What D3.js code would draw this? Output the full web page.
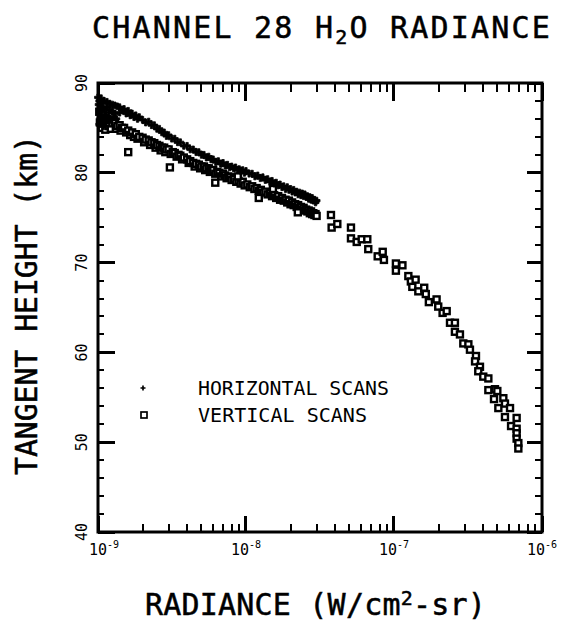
<!DOCTYPE html>
<html><head><meta charset="utf-8">
<script src="https://cdn.jsdelivr.net/npm/d3@7"></script>
<style>body{margin:0;background:#fff}svg{display:block}text{font-family:"DejaVu Sans Mono",monospace;fill:#000}</style>
</head><body>
<svg id="c" width="565" height="624"></svg>
<script>
// ---------- data ----------
const xDecades = [1e-9, 1e-8, 1e-7, 1e-6];
const xTickExponents = ["-9", "-8", "-7", "-6"];
const yTicks = [40, 50, 60, 70, 80, 90];
const legendLabels = ["HORIZONTAL SCANS", "VERTICAL SCANS"];

// horizontal scans: [radiance (W/cm2-sr), tangent height (km)]
const horizontalScans = [
[1.00e-9,88.4],[1.01e-9,87.6],[1.02e-9,88.0],[1.03e-9,86.9],[1.04e-9,87.3],[1.05e-9,88.3],[1.06e-9,86.5],[1.07e-9,87.8],
[1.08e-9,85.9],[1.10e-9,88.0],[1.10e-9,87.1],[1.12e-9,86.4],[1.15e-9,87.9],[1.15e-9,87.3],[1.18e-9,86.7],[1.20e-9,87.7],
[1.20e-9,87.0],[1.25e-9,87.6],[1.25e-9,86.8],[1.30e-9,87.5],[1.30e-9,86.6],[1.35e-9,87.4],[1.40e-9,87.3],[1.40e-9,86.7],
[1.02e-9,85.4],[1.04e-9,86.1],[1.09e-9,85.2],[1.13e-9,85.7],[1.17e-9,86.1],[1.22e-9,85.9],[1.28e-9,86.2],[1.33e-9,86.0],
[1.45e-9,87.0],[1.50e-9,87.1],[1.55e-9,86.6],[1.60e-9,86.9],[1.65e-9,86.4],[1.70e-9,86.6],[1.75e-9,86.2],[1.80e-9,86.4],
[1.85e-9,86.0],[1.90e-9,86.2],[2.00e-9,85.9],[2.10e-9,85.6],[2.20e-9,85.7],[2.30e-9,85.3],[2.40e-9,85.3],[2.50e-9,84.9],
[2.60e-9,84.9],[2.70e-9,84.5],[2.80e-9,84.5],[2.90e-9,84.1],[3.00e-9,84.2],[3.15e-9,83.8],[3.30e-9,83.8],[3.45e-9,83.4],
[3.60e-9,83.4],[3.80e-9,83.0],[4.00e-9,83.0],[4.20e-9,82.6],[4.40e-9,82.6],[4.60e-9,82.3],[4.80e-9,82.3],[5.00e-9,82.0],
[5.20e-9,82.0],[5.40e-9,81.7],[5.60e-9,81.8],[5.80e-9,81.5],[6.00e-9,81.5],[6.25e-9,81.2],[6.50e-9,81.3],[6.75e-9,81.0],
[7.00e-9,81.1],[7.25e-9,80.8],[7.50e-9,80.9],[7.75e-9,80.6],[8.00e-9,80.7],[8.25e-9,80.5],[8.50e-9,80.6],[8.75e-9,80.3],
[9.00e-9,80.4],[9.25e-9,80.2],[9.50e-9,80.3],[9.75e-9,80.0],[1.00e-8,80.2],[1.05e-8,79.9],[1.10e-8,79.9],[1.15e-8,79.6],
[1.20e-8,79.7],[1.25e-8,79.4],[1.30e-8,79.5],[1.35e-8,79.2],[1.40e-8,79.3],[1.45e-8,79.0],[1.50e-8,79.1],[1.55e-8,78.8],
[1.60e-8,78.9],[1.65e-8,78.6],[1.70e-8,78.7],[1.75e-8,78.4],[1.80e-8,78.5],[1.85e-8,78.2],[1.90e-8,78.4],[1.95e-8,78.1],
[2.00e-8,78.2],[2.05e-8,77.9],[2.10e-8,78.1],[2.15e-8,77.8],[2.20e-8,77.9],[2.25e-8,77.6],[2.30e-8,77.8],[2.35e-8,77.5],
[2.40e-8,77.7],[2.45e-8,77.4],[2.50e-8,77.6],[2.55e-8,77.3],[2.60e-8,77.4],[2.65e-8,77.1],[2.70e-8,77.3],[2.75e-8,77.0],
[2.80e-8,77.2],[2.85e-8,76.9],[2.90e-8,77.0],[2.95e-8,76.7],[3.00e-8,76.9]
];

// vertical scans: [radiance (W/cm2-sr), tangent height (km)]
const verticalScans = [
[1.02e-9,86.8],[1.03e-9,85.6],[1.05e-9,86.2],[1.06e-9,85.0],[1.08e-9,86.5],[1.10e-9,85.7],[1.12e-9,84.8],[1.15e-9,86.0],
[1.18e-9,85.2],[1.20e-9,85.9],[1.22e-9,84.9],[1.25e-9,85.5],[1.30e-9,85.6],[1.32e-9,84.9],[1.35e-9,85.2],[1.40e-9,85.3],
[1.42e-9,84.7],[1.45e-9,85.0],[1.50e-9,85.0],[1.55e-9,84.5],[1.60e-9,84.7],[1.65e-9,84.2],[1.70e-9,84.5],[1.75e-9,84.0],
[1.80e-9,84.3],[1.85e-9,83.8],[1.90e-9,84.0],[2.00e-9,83.9],[2.05e-9,83.4],[2.10e-9,83.7],[2.20e-9,83.6],[2.25e-9,83.1],
[2.30e-9,83.4],[2.40e-9,83.3],[2.45e-9,82.8],[2.50e-9,83.1],[2.60e-9,83.0],[2.65e-9,82.5],[2.70e-9,82.8],[2.80e-9,82.8],
[2.85e-9,82.3],[2.90e-9,82.6],[3.00e-9,82.6],[3.10e-9,82.1],[3.20e-9,82.3],[3.30e-9,82.2],[3.40e-9,81.8],[3.50e-9,82.0],
[3.60e-9,81.9],[3.70e-9,81.5],[3.80e-9,81.7],[4.00e-9,81.5],[4.10e-9,81.1],[4.20e-9,81.3],[4.40e-9,81.1],[4.50e-9,80.7],
[4.60e-9,81.0],[4.80e-9,80.9],[4.90e-9,80.5],[5.00e-9,80.7],[5.20e-9,80.7],[5.30e-9,80.3],[5.40e-9,80.5],[5.60e-9,80.5],
[5.70e-9,80.1],[5.80e-9,80.3],[6.00e-9,80.3],[6.20e-9,79.9],[6.40e-9,80.1],[6.60e-9,80.0],[6.80e-9,79.6],[7.00e-9,79.9],
[7.20e-9,79.7],[7.40e-9,79.4],[7.60e-9,79.6],[7.80e-9,79.5],[8.00e-9,79.2],[8.30e-9,79.3],[8.60e-9,79.0],[8.90e-9,79.1],
[9.20e-9,78.8],[9.50e-9,79.0],[9.80e-9,78.6],[1.02e-8,78.7],[1.06e-8,78.4],[1.10e-8,78.5],[1.14e-8,78.2],[1.18e-8,78.3],
[1.22e-8,78.0],[1.26e-8,78.1],[1.30e-8,77.8],[1.35e-8,77.9],[1.40e-8,77.6],[1.45e-8,77.7],[1.50e-8,77.4],[1.55e-8,77.5],
[1.60e-8,77.2],[1.65e-8,77.4],[1.70e-8,77.0],[1.75e-8,77.2],[1.80e-8,76.9],[1.85e-8,77.0],[1.90e-8,76.7],[1.95e-8,76.9],
[2.00e-8,76.5],[2.05e-8,76.7],[2.10e-8,76.4],[2.15e-8,76.5],[2.20e-8,76.2],[2.25e-8,76.4],[2.30e-8,76.1],[2.35e-8,76.2],
[2.40e-8,75.9],[2.45e-8,76.1],[2.50e-8,75.8],[2.55e-8,75.9],[2.60e-8,75.7],[2.65e-8,75.8],[2.70e-8,75.5],[2.75e-8,75.7],
[2.80e-8,75.4],[2.85e-8,75.5],[2.90e-8,75.3],[2.95e-8,75.4],[3.00e-8,75.2],
[1.60e-9,82.3],[3.06e-9,80.6],[6.20e-9,78.9],[8.80e-9,79.6],[1.22e-8,77.2],[1.52e-8,78.2],[2.24e-8,75.6],
[3.75e-8,75.3],[3.79e-8,73.9],[4.14e-8,74.3],[5.12e-8,73.9],[5.12e-8,72.7],[5.60e-8,72.3],[6.05e-8,72.6],[6.60e-8,72.6],
[6.70e-8,71.5],[7.76e-8,70.7],[8.39e-8,71.2],[8.55e-8,70.3],[1.03e-7,69.9],[1.03e-7,69.1],[1.14e-7,69.7],[1.25e-7,68.5],
[1.30e-7,67.9],[1.40e-7,68.1],[1.33e-7,67.3],[1.46e-7,66.8],[1.60e-7,67.2],[1.64e-7,66.5],[1.72e-7,65.6],[1.94e-7,65.9],
[1.99e-7,65.1],[2.13e-7,64.4],[2.27e-7,64.6],[2.39e-7,63.3],[2.58e-7,63.3],[2.58e-7,62.3],[2.79e-7,62.0],[2.94e-7,61.0],
[3.18e-7,60.9],[3.26e-7,60.3],[3.58e-7,59.6],[3.53e-7,59.0],[3.81e-7,58.4],[3.71e-7,57.9],[4.01e-7,57.3],[4.34e-7,57.1],
[4.34e-7,55.8],[4.81e-7,55.9],[4.99e-7,55.7],[4.74e-7,54.8],[5.48e-7,54.9],[5.62e-7,54.3],[5.07e-7,53.8],[6.08e-7,53.8],
[5.62e-7,52.8],[6.74e-7,52.7],[6.18e-7,51.8],[6.74e-7,51.5],[6.74e-7,51.0],[6.74e-7,50.4],[6.92e-7,49.9],[6.92e-7,49.3]
];

// ---------- drawing ----------
const svg = d3.select("#c");
const L = 98, R = 542, T = 83, B = 532;
const x = d3.scaleLog().domain([1e-9, 1e-6]).range([L, R]);
const y = d3.scaleLinear().domain([40, 90]).range([B, T]);

const minorX = [];
for (let e = -9; e < -6; e++) for (let m = 2; m <= 9; m++) minorX.push(m * Math.pow(10, e));
const minorY = [];
for (let v = 42; v < 90; v += 2) if (v % 10 !== 0) minorY.push(v);

// x tick labels
xDecades.forEach((v, i) => {
  const t = svg.append("text").attr("x", x(v) + (i === 0 ? 6 : 0)).attr("y", 555)
    .attr("text-anchor", "middle").attr("font-size", 15);
  t.append("tspan").text("10");
  t.append("tspan").attr("dy", -7).attr("font-size", 10).text(xTickExponents[i]);
});
// y tick labels
yTicks.forEach(v => {
  svg.append("text").attr("transform", `translate(87,${y(v)}) rotate(-90)`)
    .attr("text-anchor", "middle").attr("font-size", 15).text(v);
});

// markers
const sq = 6;
svg.append("g").selectAll("rect").data(verticalScans).join("rect")
  .attr("x", d => x(d[0]) - sq / 2).attr("y", d => y(d[1]) - sq / 2)
  .attr("width", sq).attr("height", sq)
  .attr("fill", "#fff").attr("stroke", "#000").attr("stroke-width", 2.4);
const cross = d3.symbol().type(d3.symbolCross).size(26);
svg.append("g").selectAll("path").data(horizontalScans).join("path")
  .attr("d", cross).attr("transform", d => `translate(${x(d[0])},${y(d[1])})`)
  .attr("fill", "#000").attr("stroke", "#000").attr("stroke-width", 0.8);

// legend
const legendSmall = d3.symbol().type(d3.symbolCross).size(14);
svg.append("path").attr("d", legendSmall).attr("transform", "translate(143,388)").attr("fill", "#000");
svg.append("rect").attr("x", 141).attr("y", 412).attr("width", sq).attr("height", sq)
  .attr("fill", "#fff").attr("stroke", "#000").attr("stroke-width", 1.7);
svg.append("text").attr("x", 198).attr("y", 395).attr("font-size", 19)
  .attr("textLength", 191).attr("lengthAdjust", "spacingAndGlyphs").text(legendLabels[0]);
svg.append("text").attr("x", 198).attr("y", 422).attr("font-size", 19)
  .attr("textLength", 169).attr("lengthAdjust", "spacingAndGlyphs").text(legendLabels[1]);

// title
const title = svg.append("text").attr("x", 92).attr("y", 38).attr("font-size", 30)
  .attr("letter-spacing", 2.2).attr("stroke", "#000").attr("stroke-width", 0.5);
title.append("tspan").text("CHANNEL 28 H");
title.append("tspan").attr("dy", 6).attr("font-size", 20).text("2");
title.append("tspan").attr("dy", -6).text("O RADIANCE");

// x axis title
const xt = svg.append("text").attr("x", 145).attr("y", 615).attr("font-size", 30)
  .attr("letter-spacing", 0.2).attr("stroke", "#000").attr("stroke-width", 0.5);
xt.append("tspan").text("RADIANCE (W/cm");
xt.append("tspan").attr("dy", -10).attr("font-size", 20).text("2");
xt.append("tspan").attr("dy", 10).text("-sr)");

// y axis title
svg.append("text").attr("transform", "translate(37,475) rotate(-90)").attr("font-size", 30)
  .attr("stroke", "#000").attr("stroke-width", 0.5)
  .attr("textLength", 340).attr("lengthAdjust", "spacingAndGlyphs").text("TANGENT HEIGHT  (km)");

// frame
svg.append("rect").attr("x", L).attr("y", T).attr("width", R - L).attr("height", B - T)
  .attr("fill", "none").attr("stroke", "#000").attr("stroke-width", 3);

// tick marks (inward), drawn last so nothing covers them
const tickLayer = svg.append("g").attr("fill", "#000");
function xTickRects(vals, y0, len, w) {
  vals.forEach(v => {
    tickLayer.append("rect").attr("x", Math.round(x(v) - w / 2)).attr("width", w)
      .attr("y", len < 0 ? y0 + len : y0).attr("height", Math.abs(len)).attr("fill", "#000");
  });
}
function yTickRects(vals, x0, len, w) {
  vals.forEach(v => {
    tickLayer.append("rect").attr("y", Math.round(y(v) - w / 2)).attr("height", w)
      .attr("x", len < 0 ? x0 + len : x0).attr("width", Math.abs(len)).attr("fill", "#000");
  });
}
xTickRects(xDecades, B, -16, 3);
xTickRects(minorX, B, -8, 2);
xTickRects(xDecades, T, 18, 3);
xTickRects(minorX, T, 9, 2);
yTickRects(yTicks, L, 17, 3);
yTickRects(minorY, L, 6, 2);
yTickRects(yTicks, R, -15, 3);
yTickRects(minorY, R, -7, 2);
</script>
</body></html>
